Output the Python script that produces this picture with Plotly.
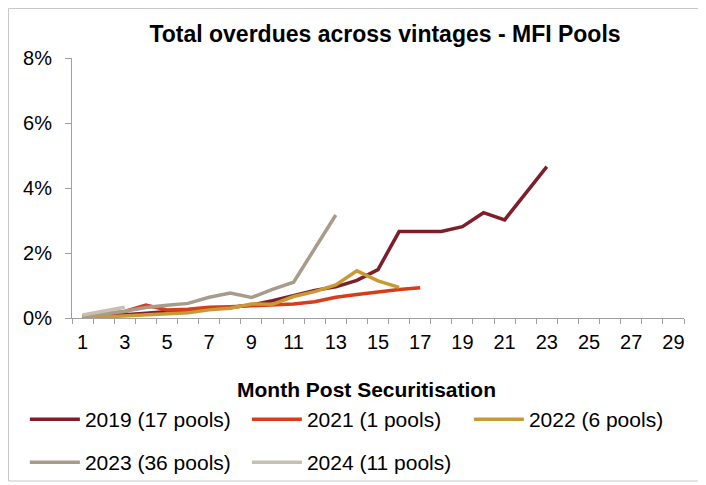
import plotly.graph_objects as go

# month post securitisation
months = list(range(1, 30))

# total overdues (%) per vintage
v2019 = [0.02, 0.05, 0.10, 0.15, 0.20, 0.25, 0.30, 0.32, 0.40, 0.53, 0.69, 0.85, 0.96, 1.16,
         1.49, 2.66, 2.66, 2.66, 2.81, 3.24, 3.02, 3.84, 4.66]
v2021 = [0.04, 0.12, 0.20, 0.40, 0.25, 0.27, 0.33, 0.35, 0.37, 0.39, 0.43, 0.50, 0.64, 0.72,
         0.81, 0.88, 0.93]
v2022 = [0.00, 0.03, 0.06, 0.10, 0.13, 0.16, 0.25, 0.30, 0.43, 0.42, 0.66, 0.81, 1.02, 1.45,
         1.14, 0.94]
v2023 = [0.07, 0.12, 0.21, 0.32, 0.39, 0.45, 0.64, 0.77, 0.63, 0.88, 1.10, 2.13, 3.17]
v2024 = [0.09, 0.21, 0.33]

series = [
    ("2019 (17 pools)", v2019, "#7d1f2b", "legend"),
    ("2021 (1 pools)", v2021, "#d83c19", "legend"),
    ("2022 (6 pools)", v2022, "#c99935", "legend"),
    ("2023 (36 pools)", v2023, "#a99b89", "legend2"),
    ("2024 (11 pools)", v2024, "#c6bfb2", "legend2"),
]

FONT = "Arial, 'Liberation Sans', sans-serif"
AXIS = "#a0a0a0"

fig = go.Figure()
for name, vals, color, leg in series:
    fig.add_trace(go.Scatter(x=months[:len(vals)], y=vals, name=name, mode="lines",
                             line=dict(color=color, width=3.5), legend=leg))

legend_style = dict(orientation="h", xanchor="left", yanchor="top", x=-0.077,
                    itemwidth=50, entrywidth=157, entrywidthmode="pixels", bgcolor="rgba(0,0,0,0)",
                    font=dict(family=FONT, size=21, color="#000"))

# page body has an 8px margin, so the figure is 8px smaller than the window
fig.update_layout(
    width=698, height=477,
    margin=dict(l=64, r=22, t=50, b=167, autoexpand=False),
    paper_bgcolor="white", plot_bgcolor="white",
    font=dict(family=FONT, size=20, color="#000"),
    title=dict(text="<b>Total overdues across vintages - MFI Pools</b>", x=377 / 698, xref="container",
               xanchor="center", y=1 - 26 / 477, yanchor="middle", font=dict(size=23)),
    showlegend=True,
    legend=dict(legend_style, y=-0.3115),
    legend2=dict(legend_style, y=-0.477),
    xaxis=dict(range=[0.5, 29.5], tick0=1, dtick=2, ticks="", showline=True, linecolor=AXIS,
               showgrid=False, zeroline=False, ticklabelstandoff=6,
               minor=dict(tick0=0.5, dtick=1, ticks="outside", ticklen=5, tickcolor=AXIS, showgrid=False)),
    yaxis=dict(range=[0, 8], dtick=2, ticksuffix="%", ticks="outside", ticklen=6, tickcolor=AXIS,
               showline=True, linecolor=AXIS, showgrid=False, zeroline=False, ticklabelstandoff=9),
    annotations=[dict(text="<b>Month Post Securitisation</b>", xref="paper", yref="paper",
                      x=(366.5 - 72) / 612, y=(318 - 389) / 260, xanchor="center", yanchor="middle",
                      showarrow=False, font=dict(size=21))],
    shapes=[dict(type="rect", xref="paper", yref="paper", x0=(8.5 - 72) / 612, x1=(701 - 72) / 612,
                 y0=(318 - 481) / 260, y1=(318 - 8.5) / 260, line=dict(color="#c8c8c8", width=1))],
)

fig.write_html("out.html")
